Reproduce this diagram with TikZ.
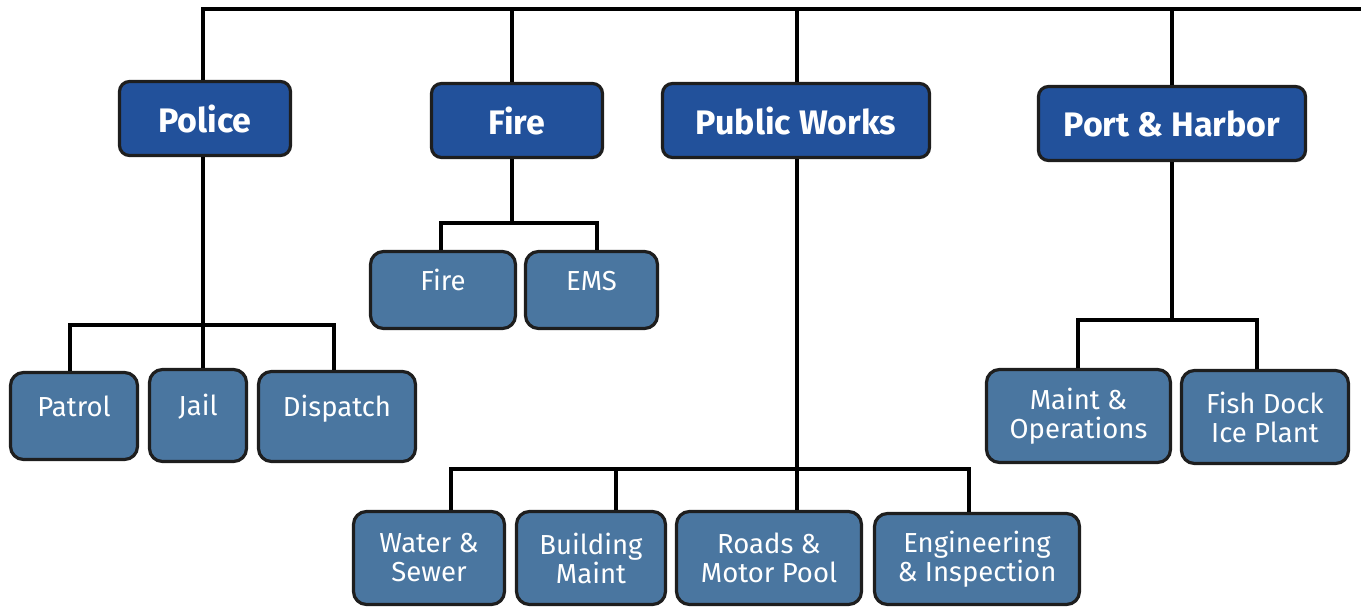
\documentclass[tikz,border=0pt]{standalone}
\usepackage{fontspec}
\setmainfont{Fira Sans}
\definecolor{headblue}{HTML}{22519B}
\definecolor{unitblue}{HTML}{4A76A0}
\definecolor{edgegray}{HTML}{1E1E1E}

\begin{document}
\begin{tikzpicture}[x=1pt,y=-1pt,
    head/.style={rectangle, rounded corners=10pt, draw=edgegray, line width=3.2pt, fill=headblue, text=white, font=\fontsize{34}{36}\selectfont\bfseries, inner sep=0pt, minimum height=74pt},
    unit/.style={rectangle, rounded corners=13pt, draw=edgegray, line width=3.2pt, fill=unitblue, text=white, font=\fontsize{27.5}{29}\selectfont, inner sep=0pt, align=center},
    oneline/.style={text height=12pt, text depth=12pt},
    link/.style={line width=3.2pt, black}]
      \useasboundingbox (0,0) rectangle (1361,608);

      % Nodes
      \node (police) at (205,118.5) [head, minimum width=171pt] {Police};
      \node (firehead) at (517,120.5) [head, minimum width=171pt] {Fire};
      \node (works) at (796,120.5) [head, minimum width=267pt] {Public Works};
      \node (port) at (1172,123.5) [head, minimum width=267pt] {Port \& Harbor};

      \node (patrol) at (74,416) [unit, oneline, minimum width=127pt, minimum height=87pt] {Patrol};
      \node (jail) at (198,415.5) [unit, oneline, minimum width=97pt, minimum height=92pt] {Jail};
      \node (dispatch) at (337,416.5) [unit, oneline, minimum width=157pt, minimum height=90pt] {Dispatch};

      \node (firesub) at (443,290) [unit, oneline, minimum width=145pt, minimum height=77pt] {Fire};
      \node (ems) at (591.5,290) [unit, oneline, minimum width=132pt, minimum height=77pt] {EMS};

      \node (maintops) at (1078.5,416) [unit, minimum width=184pt, minimum height=93pt] {Maint \&\\Operations};
      \node (fishdock) at (1265,417) [unit, minimum width=167pt, minimum height=93pt] {Fish Dock\\Ice Plant};

      \node (water) at (429,558) [unit, minimum width=151pt, minimum height=93pt] {Water \&\\Sewer};
      \node (building) at (591,558) [unit, minimum width=149pt, minimum height=93pt] {Building\\Maint};
      \node (roads) at (769,558) [unit, minimum width=185pt, minimum height=93pt] {Roads \&\\Motor Pool};
      \node (engineering) at (977,559) [unit, minimum width=205pt, minimum height=91pt] {Engineering\\\& Inspection};

      \coordinate (topright) at (1361,9);
      \coordinate (policebar) at (203,325);
      \coordinate (firebar) at (512,223);
      \coordinate (worksbar) at (797,469);
      \coordinate (portbar) at (1172,320);

      % Edges
      \draw[link] (police.north -| policebar) |- (topright);
      \draw[link] (firehead.north -| firebar) -- (firebar |- topright);
      \draw[link] (works.north -| worksbar) -- (worksbar |- topright);
      \draw[link] (port.north -| portbar) -- (portbar |- topright);

      \draw[link] (police.south -| policebar) -- (jail.north -| policebar);
      \draw[link] (patrol.north -| 70,0) |- (policebar) -| (dispatch.north -| 334,0);

      \draw[link] (firehead.south -| firebar) -- (firebar);
      \draw[link] (firesub.north -| 441,0) |- (firebar) -| (ems.north -| 597,0);

      \draw[link] (works.south -| worksbar) -- (roads.north -| worksbar);
      \draw[link] (water.north -| 451,0) |- (worksbar) -| (engineering.north -| 969,0);
      \draw[link] (building.north -| 616,0) -- (worksbar -| 616,0);

      \draw[link] (port.south -| portbar) -- (portbar);
      \draw[link] (maintops.north -| 1078,0) |- (portbar) -| (fishdock.north -| 1257,0);
    \end{tikzpicture}
\end{document}
